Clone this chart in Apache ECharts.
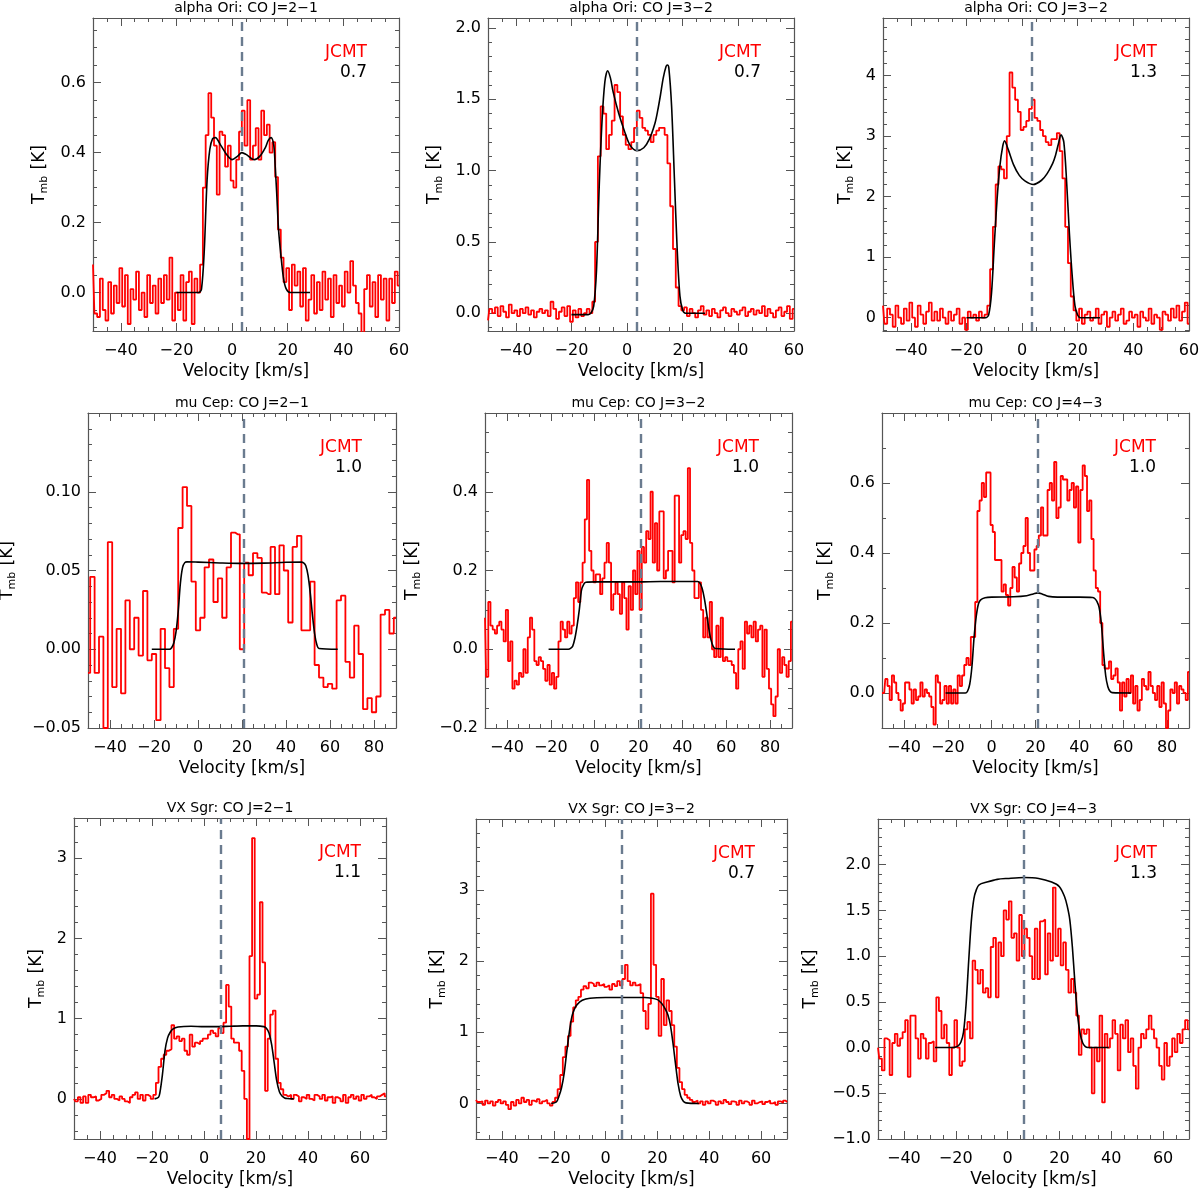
<!DOCTYPE html>
<html><head><meta charset="utf-8">
<script src="https://cdn.jsdelivr.net/npm/echarts@6/dist/echarts.min.js"></script>
<style>html,body{margin:0;padding:0;background:#fff}#c{width:1200px;height:1192px}</style>
</head><body><div id="c"></div>
<script>
// ---------------- DATA ----------------
const titles = ['alpha Ori: CO J=2\u22121','alpha Ori: CO J=3\u22122','alpha Ori: CO J=3\u22122',
  'mu Cep: CO J=2\u22121','mu Cep: CO J=3\u22122','mu Cep: CO J=4\u22123',
  'VX Sgr: CO J=2\u22121','VX Sgr: CO J=3\u22122','VX Sgr: CO J=4\u22123'];
const telescope = 'JCMT';
const scaleLabels = ['0.7','0.7','1.3','1.0','1.0','1.0','1.1','0.7','1.3'];
const vsys = [3.3,3.3,3.3,21,21,21,6.4,6.4,6.4];
const chanStart = [-50,-50,-50,-50,-50,-50,-50,-50,-50];
const chanWidth = [1,1,1,2,1,1,1,1,1];

const xTicksA = [-40,-20,0,20,40,60];
const xTicksB = [-40,-20,0,20,40,60,80];
const yTicks = [
  [0,0.2,0.4,0.6],[0,0.5,1.0,1.5,2.0],[0,1,2,3,4],
  [-0.05,0,0.05,0.10],[-0.2,0,0.2,0.4],[0,0.2,0.4,0.6],
  [0,1,2,3],[0,1,2,3],[-1.0,-0.5,0,0.5,1.0,1.5,2.0]
];

const obs1 = [0.08,-0.06,-0.07,0.04,-0.05,-0.08,0.03,-0.06,0.02,-0.03,
 0.07,-0.04,0.05,-0.09,0.01,-0.02,0.06,-0.05,0.00,-0.07,
 0.05,-0.03,0.02,-0.06,0.04,-0.03,0.05,-0.02,0.10,-0.08,
 0.00,-0.05,0.05,-0.08,0.03,0.06,-0.09,0.04,0.00,0.08,
 0.30,0.45,0.57,0.50,0.42,0.28,0.46,0.45,0.36,0.42,
 0.32,0.30,0.38,0.46,0.52,0.42,0.55,0.38,0.42,0.47,
 0.38,0.52,0.45,0.48,0.40,0.43,0.33,0.18,0.10,0.03,
 0.07,-0.05,0.08,0.02,0.06,-0.04,0.07,-0.08,-0.02,0.05,
 -0.06,0.03,-0.05,0.06,-0.02,0.04,-0.07,0.05,-0.03,0.02,
 -0.04,0.06,0.00,0.09,0.02,-0.03,-0.06,-0.12,0.01,0.05,
 -0.04,0.03,-0.07,0.05,-0.02,0.04,-0.08,0.04,-0.03,0.06,
 0.02];
const obs2 = [-0.05,0.03,0.00,0.04,-0.02,0.05,0.01,-0.03,0.06,0.00,
 0.02,-0.02,0.03,0.00,0.04,-0.01,0.02,-0.03,0.01,0.03,
 0.00,0.02,-0.02,0.08,0.03,-0.04,0.01,0.04,-0.02,0.05,
 -0.06,0.02,-0.03,0.03,-0.02,0.00,0.03,0.00,0.08,0.50,
 1.10,1.45,1.40,1.15,1.25,1.35,1.60,1.55,1.38,1.25,
 1.18,1.15,1.20,1.30,1.42,1.37,1.30,1.28,1.25,1.20,
 1.25,1.28,1.30,1.30,1.25,1.05,0.75,0.45,0.18,0.05,
 0.02,0.04,-0.02,0.03,0.00,-0.03,0.02,0.05,-0.01,0.02,
 -0.02,0.03,0.00,-0.03,0.02,0.04,0.00,-0.02,0.03,0.01,
 -0.01,0.02,0.04,-0.02,0.01,0.03,-0.01,0.02,0.00,0.05,
 -0.02,0.03,0.00,-0.03,0.02,0.04,-0.02,0.01,0.05,-0.04,
 0.03];
const obs3 = [0.20,-0.10,0.15,0.05,-0.15,0.20,0.00,-0.10,0.15,-0.05,
 0.25,0.00,-0.15,0.20,0.05,-0.10,0.10,0.25,-0.05,0.10,
 -0.05,0.15,0.00,-0.10,0.10,-0.05,0.05,0.15,-0.10,0.00,
 -0.20,0.10,0.00,0.05,-0.05,0.10,0.00,0.05,0.20,0.80,
 1.50,2.20,2.50,2.45,2.30,3.00,4.05,3.80,3.60,3.40,
 3.10,3.15,3.25,3.45,3.60,3.30,3.25,3.10,3.00,2.90,
 2.85,2.95,2.95,3.05,2.75,2.30,1.50,0.90,0.35,0.12,
 -0.05,0.15,-0.10,0.05,0.10,-0.05,0.00,0.15,-0.10,0.05,
 0.10,-0.15,0.00,0.10,-0.05,0.05,0.15,-0.10,-0.05,0.10,
 0.00,0.05,-0.15,0.10,0.00,-0.05,0.15,-0.10,0.05,0.00,
 -0.20,0.10,0.05,-0.05,0.15,0.00,0.20,-0.05,0.10,0.25,
 -0.10];
const obs4 = [-0.015,0.046,-0.015,0.008,-0.050,0.068,-0.024,0.013,-0.028,0.031,
 0.000,0.020,-0.004,0.037,-0.007,-0.003,-0.045,0.013,-0.012,-0.024,
 0.013,0.077,0.103,0.091,0.043,0.012,0.020,0.052,0.057,0.030,
 0.045,0.020,0.052,0.074,0.073,0.000,0.055,0.047,0.061,0.058,
 0.036,0.035,0.065,0.035,0.066,0.050,0.017,0.065,0.072,0.012,
 0.012,0.043,-0.010,-0.018,-0.024,-0.022,-0.025,0.031,0.034,-0.008,
 -0.018,0.015,-0.003,-0.038,-0.031,-0.040,-0.030,0.022,0.025,0.010,
 0.020];
const obs5 = [0.08,-0.07,0.12,0.06,0.05,0.04,0.06,0.07,0.05,0.02,0.10,
 -0.03,0.02,-0.10,-0.08,-0.09,-0.06,-0.07,0.00,-0.06,0.03,
 0.08,0.05,-0.03,-0.04,-0.02,-0.03,-0.05,-0.08,-0.04,-0.09,
 -0.06,-0.10,-0.07,0.02,0.07,0.05,0.03,0.07,0.04,0.06,
 0.13,0.17,0.12,0.17,0.22,0.33,0.43,0.25,0.20,0.17,
 0.19,0.19,0.14,0.18,0.22,0.27,0.22,0.10,0.14,0.17,
 0.14,0.09,0.17,0.13,0.05,0.16,0.10,0.20,0.14,0.25,
 0.10,0.26,0.22,0.30,0.28,0.40,0.22,0.32,0.20,0.35,
 0.35,0.18,0.20,0.25,0.25,0.17,0.39,0.39,0.22,0.29,
 0.30,0.28,0.46,0.27,0.20,0.13,0.13,0.17,0.10,0.03,
 0.08,0.03,0.12,0.00,-0.02,0.06,-0.02,0.08,-0.03,-0.02,
 -0.03,-0.03,-0.04,-0.06,-0.10,0.00,0.02,-0.05,0.07,0.04,
 0.06,0.03,0.07,0.02,0.05,0.06,-0.07,0.05,-0.05,-0.10,
 -0.14,-0.17,-0.12,0.00,-0.06,-0.02,-0.04,-0.07,-0.03,0.07];
const obs6 = [0.00,0.00,0.04,0.02,-0.02,0.05,0.03,0.00,-0.02,-0.05,
 -0.03,0.03,0.03,0.01,-0.03,0.01,-0.02,-0.01,0.03,-0.01,
 0.01,0.00,-0.01,-0.04,-0.09,0.05,0.03,-0.03,-0.02,0.02,
 -0.03,0.02,-0.03,0.01,-0.03,0.05,0.02,0.05,0.08,0.10,
 0.08,0.16,0.16,0.26,0.52,0.55,0.60,0.56,0.63,0.63,
 0.48,0.46,0.38,0.38,0.38,0.29,0.31,0.28,0.25,0.30,
 0.36,0.33,0.29,0.37,0.40,0.42,0.50,0.40,0.35,0.35,
 0.41,0.42,0.45,0.53,0.45,0.45,0.58,0.60,0.55,0.66,
 0.50,0.53,0.62,0.61,0.61,0.55,0.58,0.60,0.53,0.59,
 0.43,0.58,0.65,0.62,0.52,0.55,0.44,0.35,0.30,0.29,
 0.20,0.08,0.07,0.07,0.09,0.04,0.05,0.07,0.03,-0.05,
 0.03,-0.01,0.04,0.00,0.05,-0.03,0.02,-0.05,-0.02,0.04,
 0.02,0.01,0.06,0.02,0.00,-0.02,0.02,-0.04,0.03,-0.03,
 -0.10,-0.05,0.01,0.00,0.03,-0.03,0.02,0.01,0.00,-0.02,0.06];
const obs7 = [0.00,-0.03,0.02,-0.05,0.03,-0.05,0.05,0.02,0.03,-0.02,
 0.00,0.05,0.07,0.10,0.02,0.05,0.00,-0.02,0.03,0.00,
 -0.03,-0.05,0.02,0.05,0.08,0.00,0.05,-0.02,0.05,0.03,
 0.00,0.05,0.20,0.40,0.50,0.55,0.60,0.62,0.92,0.75,
 0.78,0.72,0.75,0.60,0.55,0.80,0.65,0.70,0.68,0.72,
 0.75,0.75,0.80,0.85,0.82,0.78,0.88,0.82,0.95,1.42,
 1.15,0.75,0.70,0.70,0.60,0.35,0.00,-0.50,1.78,3.25,
 1.25,1.30,2.45,1.70,0.10,0.75,1.05,1.10,0.50,0.20,
 0.12,0.05,0.03,0.05,0.00,0.05,0.03,-0.03,0.02,0.00,
 0.05,0.00,-0.02,0.05,0.03,0.00,0.05,-0.02,0.02,0.03,
 -0.05,0.02,0.00,-0.03,0.05,-0.05,0.02,0.05,0.00,0.03,
 -0.02,0.05,0.00,0.03,0.05,0.02,0.00,0.03,0.05,0.07,
 0.03];
const obs8 = [0.05,0.02,0.03,-0.02,0.04,0.00,0.03,-0.03,0.02,0.05,
 0.00,0.03,-0.02,-0.08,0.02,-0.03,0.05,0.00,0.08,0.02,
 0.05,-0.02,0.04,0.02,0.06,0.00,0.03,0.05,0.00,-0.03,
 0.02,0.08,0.20,0.40,0.65,0.80,0.95,1.15,1.35,1.45,
 1.50,1.60,1.65,1.62,1.70,1.68,1.65,1.70,1.66,1.68,
 1.64,1.66,1.60,1.68,1.65,1.72,1.66,1.75,1.95,1.72,
 1.66,1.70,1.66,1.68,1.55,1.30,1.05,1.40,2.95,1.95,
 1.50,0.95,1.75,1.10,1.45,1.30,1.10,0.80,0.50,0.30,
 0.20,0.12,0.08,0.05,0.02,0.04,0.00,0.03,-0.02,0.03,
 0.00,0.04,0.02,-0.02,0.03,0.00,0.05,0.02,-0.01,0.03,
 0.02,-0.02,0.04,0.00,0.03,0.01,-0.02,0.04,0.00,0.02,
 0.03,-0.01,0.02,0.04,0.00,0.02,-0.02,0.03,0.01,0.04,
 0.02];
const obs9 = [0.00,-0.12,-0.25,0.10,0.08,-0.30,0.05,0.15,0.02,0.10,
 0.17,0.30,-0.32,0.35,0.35,0.10,-0.12,0.15,0.10,-0.12,
 0.05,0.07,-0.15,0.55,0.40,0.10,0.25,0.05,-0.30,0.00,
 0.30,0.00,-0.20,-0.15,0.20,0.28,0.10,0.95,0.85,0.70,
 0.85,0.60,0.65,0.55,1.10,1.20,0.55,1.15,1.00,1.50,
 1.40,1.60,1.20,1.25,0.95,1.45,1.00,1.30,1.20,1.00,
 0.75,1.30,0.75,1.38,1.40,0.80,1.25,0.95,1.75,1.00,
 1.30,0.90,1.15,0.85,0.60,0.75,0.60,0.35,-0.08,0.20,
 0.15,0.20,0.00,-0.50,0.00,-0.15,0.35,-0.60,0.15,0.00,
 0.10,0.30,0.15,-0.25,0.25,0.10,0.30,-0.05,0.10,-0.20,
 -0.45,0.00,0.15,0.10,0.20,0.35,0.20,0.10,0.00,-0.20,
 -0.35,0.05,-0.20,-0.10,0.10,-0.05,0.15,0.05,0.20,0.30,
 0.20];

// model curves (velocity, temperature)
const model1V = [-20,-12,-11,-10,-9,-8,-7,-6,-4,-2,0,2,3.5,5,8,10,12,13,14,15,15.5,16,16.7,17.5,18.5,19.5,21,28];
const model1T = [0,0,0.01,0.12,0.32,0.41,0.44,0.443,0.42,0.395,0.38,0.39,0.40,0.395,0.38,0.39,0.415,0.435,0.443,0.42,0.36,0.29,0.18,0.11,0.04,0.01,0,0];
const model2V = [-20,-14,-13,-12,-11,-10,-9,-8,-7,-6,-5,-3,-1,1,3.5,6,8,10,11,12,13,14,14.5,15,16,17,18,19,20,21,28];
const model2T = [-0.01,-0.01,0.0,0.05,0.3,0.9,1.35,1.62,1.7,1.65,1.55,1.4,1.28,1.18,1.14,1.16,1.22,1.33,1.42,1.53,1.65,1.73,1.74,1.72,1.45,0.95,0.45,0.12,0.02,0,0];
const model3V = [-20,-13,-12,-11,-10,-9,-8,-7,-6.3,-5,-3,-1,1,4,7,9,11,12,13,14,15,16,17,18,19,20,21,28];
const model3T = [0,0,0.05,0.4,1.2,1.95,2.5,2.82,2.92,2.78,2.52,2.35,2.26,2.2,2.27,2.38,2.55,2.68,2.86,3.02,2.9,2.25,1.4,0.7,0.2,0.04,0,0];
const model4V = [-21,-13,-12,-11,-10,-9,-8,-7,-6,-5,0,10,20,30,40,47,48,49,50,51,52,53,54,55,63.5];
const model4T = [0,0,0.001,0.004,0.011,0.024,0.042,0.052,0.055,0.0555,0.0553,0.0548,0.0545,0.0547,0.0552,0.0553,0.0548,0.053,0.047,0.036,0.022,0.01,0.003,0.0005,0];
const model5V = [-21,-12,-11,-10,-9,-8,-7,-6,-5,-4,0,10,20,30,40,47,48,49,50,51,52,53,54,55,64];
const model5T = [0,0,0.002,0.008,0.028,0.06,0.1,0.15,0.165,0.17,0.171,0.171,0.171,0.172,0.172,0.172,0.168,0.155,0.13,0.095,0.055,0.025,0.008,0.002,0];
const model6V = [-21,-12,-11,-10,-9,-8,-7,-6,-5,-3,0,10,16,19,21,23,26,30,40,46,47,48,49,50,51,52,53,54,55,63.5];
const model6T = [0,0,0.005,0.025,0.075,0.16,0.22,0.255,0.266,0.272,0.274,0.275,0.278,0.283,0.286,0.283,0.276,0.274,0.274,0.273,0.27,0.262,0.245,0.2,0.12,0.05,0.018,0.005,0.001,0];
const model7V = [-19,-17.5,-17,-16,-15,-14,-13,-12,-10,-5,0,5,10,15,20,23,24,25,26,27,28,29,30,31,32,34.5];
const model7T = [0,0.02,0.07,0.3,0.6,0.76,0.83,0.87,0.895,0.905,0.9,0.9,0.905,0.91,0.91,0.9,0.88,0.82,0.68,0.45,0.22,0.09,0.035,0.012,0.004,0];
const model8V = [-21,-19,-18,-17,-16,-15,-14,-13,-12,-11,-9,-6,0,10,15,18,20,21,22,23,24,25,26,27,28,29,30,31,36];
const model8T = [0,0.02,0.1,0.22,0.42,0.72,1.0,1.22,1.33,1.39,1.45,1.48,1.49,1.49,1.49,1.48,1.46,1.43,1.39,1.33,1.25,1.1,0.85,0.55,0.27,0.1,0.03,0.008,0];
const model9V = [-28,-21,-20,-19,-18,-17,-16,-15,-14,-13,-12,-11,-8,-4,0,6.4,12,17,20,22,23,24,25,26,27,28,29,30,31,39];
const model9T = [0,0,0.005,0.02,0.06,0.17,0.48,0.95,1.38,1.63,1.73,1.78,1.81,1.84,1.85,1.86,1.85,1.81,1.76,1.65,1.55,1.4,1.1,0.7,0.36,0.15,0.05,0.01,0,0];

const obsAll = [obs1,obs2,obs3,obs4,obs5,obs6,obs7,obs8,obs9];
const modelV = [model1V,model2V,model3V,model4V,model5V,model6V,model7V,model8V,model9V];
const modelT = [model1T,model2T,model3T,model4T,model5T,model6T,model7T,model8T,model9T];

// ---------------- LAYOUT ----------------
const layout = [
  {l:93,t:18,w:306,h:313, xr:[-50,60], yr:[-0.11,0.785], xt:xTicksA, ym:0.05, yd:1, gap:43, lr:32},
  {l:488,t:18,w:306,h:313, xr:[-50,60], yr:[-0.125,2.07], xt:xTicksA, ym:0.1, yd:1, gap:43, lr:33},
  {l:883,t:18,w:306,h:313, xr:[-50,60], yr:[-0.22,4.95], xt:xTicksA, ym:0.2, yd:0, gap:27, lr:32},
  {l:88,t:413,w:308,h:315, xr:[-50,90], yr:[-0.05,0.15], xt:xTicksB, ym:0.01, yd:2, gap:70, lr:34},
  {l:485,t:413,w:307,h:315, xr:[-50,90], yr:[-0.2,0.6], xt:xTicksB, ym:0.05, yd:1, gap:62, lr:33},
  {l:882,t:413,w:307,h:315, xr:[-50,90], yr:[-0.1,0.8], xt:xTicksB, ym:0.1, yd:1, gap:46, lr:33},
  {l:74,t:818,w:312,h:321, xr:[-50,70], yr:[-0.5,3.5], xt:xTicksA, ym:0.2, yd:0, gap:27, lr:25},
  {l:476,t:819,w:311,h:320, xr:[-50,70], yr:[-0.5,4.0], xt:xTicksA, ym:0.2, yd:0, gap:28, lr:32},
  {l:878,t:819,w:311,h:320, xr:[-50,70], yr:[-1.0,2.5], xt:xTicksA, ym:0.1, yd:1, gap:57, lr:32}
];

const FONT = 'DejaVu Sans';
const AX = '#555';
function rng(a,b,s){const o=[];for(let k=Math.ceil(a/s-1e-9);k*s<=b+1e-9;k++)o.push(+(k*s).toFixed(6));return o;}
const neg = s => s.replace('-', '\u2212');

const grids=[], xAxes=[], yAxes=[], series=[], graphics=[];
layout.forEach((L,i)=>{
  grids.push({left:L.l, top:L.t, width:L.w, height:L.h, containLabel:false, outerBoundsMode:'none'});
  const xMinor = rng(L.xr[0], L.xr[1], 5);
  const yMinor = rng(L.yr[0], L.yr[1], L.ym);
  const base = {gridIndex:i, type:'value', splitLine:{show:false}};
  const tickStyle = {color:AX, width:1};
  xAxes.push(Object.assign({}, base, {min:L.xr[0], max:L.xr[1], position:'bottom',
    axisLine:{show:true,onZero:false,lineStyle:{color:AX,width:1.2}},
    axisTick:{show:true,inside:true,length:8,customValues:L.xt,lineStyle:tickStyle},
    axisLabel:{show:true,customValues:L.xt,margin:12,fontSize:16,fontFamily:FONT,color:'#000',formatter:v=>neg(String(v))},
    name:'Velocity [km/s]', nameLocation:'middle', nameGap:32,
    nameTextStyle:{fontSize:17,fontFamily:FONT,color:'#000'}}));
  xAxes.push(Object.assign({}, base, {min:L.xr[0], max:L.xr[1], position:'bottom',
    axisLine:{show:false,onZero:false}, axisTick:{show:true,inside:true,length:4,customValues:xMinor,lineStyle:tickStyle},
    axisLabel:{show:false}}));
  xAxes.push(Object.assign({}, base, {min:L.xr[0], max:L.xr[1], position:'top',
    axisLine:{show:true,onZero:false,lineStyle:{color:AX,width:1.2}},
    axisTick:{show:true,inside:true,length:8,customValues:L.xt,lineStyle:tickStyle}, axisLabel:{show:false}}));
  xAxes.push(Object.assign({}, base, {min:L.xr[0], max:L.xr[1], position:'top',
    axisLine:{show:false,onZero:false}, axisTick:{show:true,inside:true,length:4,customValues:xMinor,lineStyle:tickStyle},
    axisLabel:{show:false}}));
  const yt = yTicks[i];
  yAxes.push(Object.assign({}, base, {min:L.yr[0], max:L.yr[1], position:'left',
    axisLine:{show:true,onZero:false,lineStyle:{color:AX,width:1.2}},
    axisTick:{show:true,inside:true,length:8,customValues:yt,lineStyle:tickStyle},
    axisLabel:{show:true,customValues:yt,margin:7,fontSize:16,fontFamily:FONT,color:'#000',formatter:v=>neg(v.toFixed(L.yd))},
    name:'T{s|mb} [K]', nameLocation:'middle', nameGap:L.gap,
    nameTextStyle:{fontSize:17,fontFamily:FONT,color:'#000',
      rich:{s:{fontSize:11,fontFamily:FONT,color:'#000',padding:[9,1,0,0]}}}}));
  yAxes.push(Object.assign({}, base, {min:L.yr[0], max:L.yr[1], position:'left',
    axisLine:{show:false,onZero:false}, axisTick:{show:true,inside:true,length:4,customValues:yMinor,lineStyle:tickStyle},
    axisLabel:{show:false}}));
  yAxes.push(Object.assign({}, base, {min:L.yr[0], max:L.yr[1], position:'right',
    axisLine:{show:true,onZero:false,lineStyle:{color:AX,width:1.2}},
    axisTick:{show:true,inside:true,length:8,customValues:yt,lineStyle:tickStyle}, axisLabel:{show:false}}));
  yAxes.push(Object.assign({}, base, {min:L.yr[0], max:L.yr[1], position:'right',
    axisLine:{show:false,onZero:false}, axisTick:{show:true,inside:true,length:4,customValues:yMinor,lineStyle:tickStyle},
    axisLabel:{show:false}}));

  const obs = obsAll[i];
  series.push({type:'line', xAxisIndex:4*i, yAxisIndex:4*i, step:'middle', symbol:'none', showSymbol:false,
    animation:false, clip:true, silent:true,
    lineStyle:{color:'#ff0000', width:1.8}, itemStyle:{color:'#ff0000'},
    data: obs.map((t,k)=>[chanStart[i]+k*chanWidth[i], t]),
    markLine:{silent:true, animation:false, symbol:['none','none'], label:{show:false},
      lineStyle:{type:[9,6], color:'#6a7b8f', width:2.4}, data:[{xAxis:vsys[i]}]}});
  series.push({type:'line', xAxisIndex:4*i, yAxisIndex:4*i, symbol:'none', showSymbol:false, smooth:0.3,
    animation:false, clip:true, silent:true, z:3,
    lineStyle:{color:'#000', width:1.6}, itemStyle:{color:'#000'},
    data: modelV[i].map((v,k)=>[v, modelT[i][k]])});

  graphics.push({type:'text', x:L.l+L.w/2, y:L.t-10, silent:true,
    style:{text:titles[i], fill:'#000', font:'14px "'+FONT+'"', textAlign:'center', textVerticalAlign:'middle', align:'center', verticalAlign:'middle'}});
  graphics.push({type:'text', x:L.l+L.w-L.lr, y:L.t+35, silent:true,
    style:{text:telescope, fill:'#ff0000', font:'17px "'+FONT+'"', textAlign:'right', textVerticalAlign:'middle', align:'right', verticalAlign:'middle'}});
  graphics.push({type:'text', x:L.l+L.w-L.lr, y:L.t+55, silent:true,
    style:{text:scaleLabels[i], fill:'#000', font:'17px "'+FONT+'"', textAlign:'right', textVerticalAlign:'middle', align:'right', verticalAlign:'middle'}});
});

const chart = echarts.init(document.getElementById('c'), null, {renderer:'canvas'});
chart.setOption({backgroundColor:'#fff', animation:false, grid:grids, xAxis:xAxes, yAxis:yAxes, series:series, graphic:{elements:graphics}});
</script></body></html>
